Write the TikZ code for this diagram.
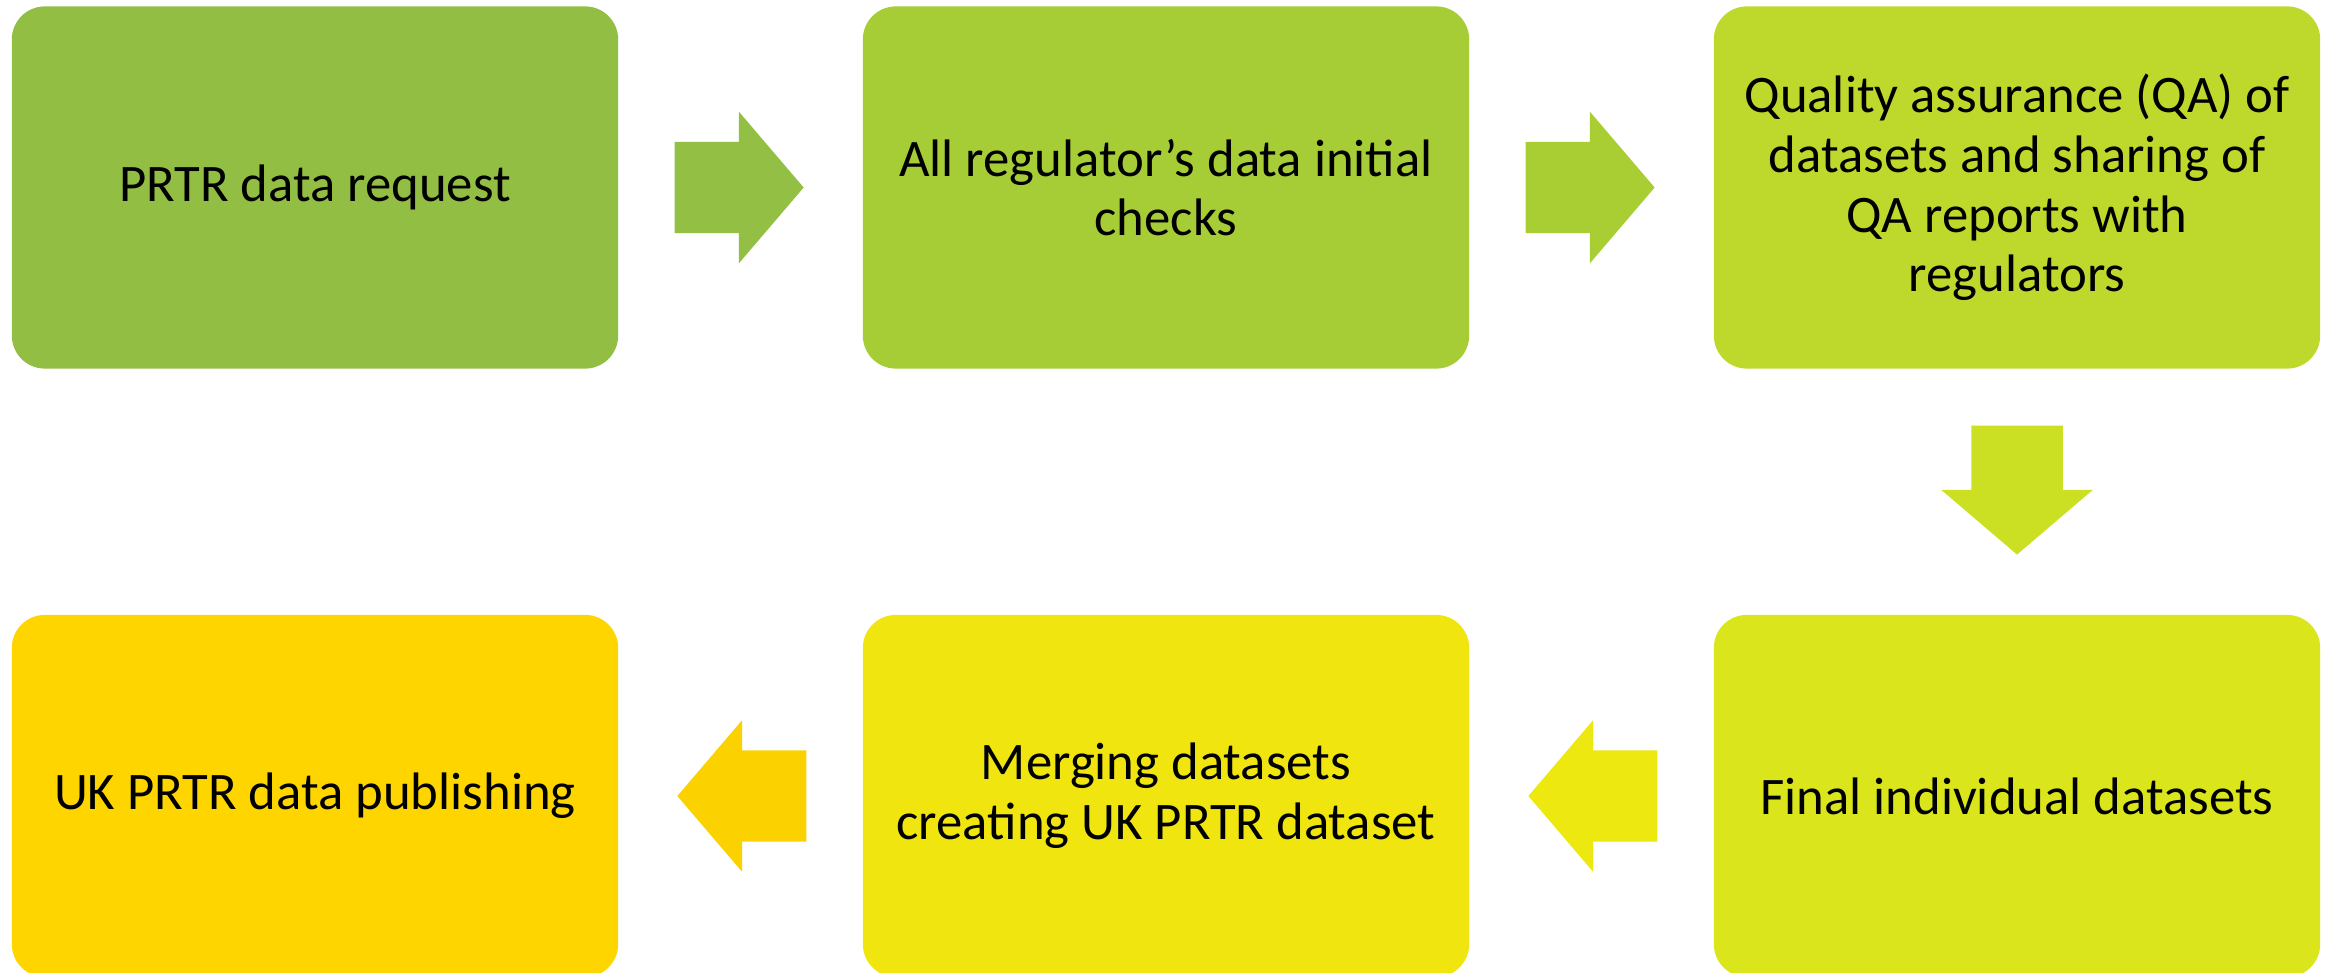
\documentclass[tikz,border=0pt]{standalone}
\usepackage{fontspec}
\setmainfont{Carlito}
\usetikzlibrary{shapes.arrows,calc}
\definecolor{stepA}{RGB}{146,191,67}
\definecolor{stepB}{RGB}{166,205,53}
\definecolor{stepC}{RGB}{190,217,43}
\definecolor{stepD}{RGB}{218,229,27}
\definecolor{stepE}{RGB}{240,229,15}
\definecolor{stepF}{RGB}{255,213,0}
\definecolor{arrA}{RGB}{147,192,68}
\definecolor{arrB}{RGB}{168,206,51}
\definecolor{arrC}{RGB}{203,224,34}
\definecolor{arrD}{RGB}{237,232,16}
\definecolor{arrE}{RGB}{251,209,0}
\begin{document}
\begin{tikzpicture}
[x=0.01cm,y=-0.01cm,%
 boxstyle/.style={rectangle,rounded corners=0.33cm,minimum width=6.06cm,minimum height=3.62cm,%
   inner sep=0pt,align=center,font=\fontsize{15}{17}\selectfont},%
 arrowstyle/.style={single arrow,single arrow head extend=0.3cm,single arrow tip angle=99,%
   minimum width=1.5cm,minimum height=1.29cm,inner xsep=0pt,inner ysep=0.45cm,draw=none},%
 downarrowstyle/.style={arrowstyle,inner xsep=0.45cm,inner ysep=0pt,shape border rotate=270}]
\useasboundingbox (0,0) rectangle (2333,973);
%% process steps, top row
\node[boxstyle,fill=stepA] (request) at (315,187.5) {PRTR data request};
\node[boxstyle,fill=stepB] (checks) at (1166,187.5) {All regulator’s data initial\\checks};
\node[boxstyle,fill=stepC] (qa) at (2017,187.5) {Quality assurance (QA) of\\datasets and sharing of\\QA reports with\\regulators};
%% process steps, bottom row
\node[boxstyle,fill=stepD] (final) at (2017,796) {Final individual datasets};
\node[boxstyle,fill=stepE] (merging) at (1166,796) {Merging datasets\\creating UK PRTR dataset};
\node[boxstyle,fill=stepF] (publish) at (315,796) {UK PRTR data publishing};
%% block arrows between the steps
\node[arrowstyle,fill=arrA,anchor=tail] (arrone) at ($(request.east)+(55,0)$) {};
\node[arrowstyle,fill=arrB,anchor=tail] (arrtwo) at ($(checks.east)+(55,0)$) {};
\node[downarrowstyle,fill=arrC,anchor=tail] (arrthree) at ($(qa.south)+(0,55.5)$) {};
\node[arrowstyle,fill=arrD,anchor=tail,shape border rotate=180] (arrfour) at ($(final.west)+(-55,0)$) {};
\node[arrowstyle,fill=arrE,anchor=tail,shape border rotate=180] (arrfive) at ($(merging.west)+(-55,0)$) {};
\end{tikzpicture}
\end{document}
